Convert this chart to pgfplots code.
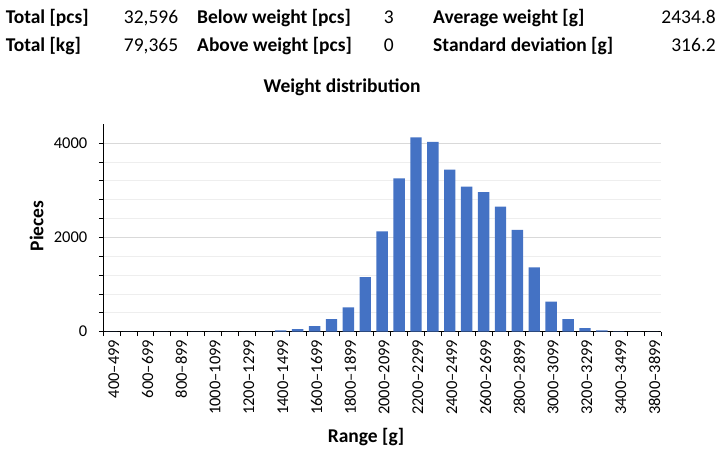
\documentclass[border=0pt]{standalone}
\usepackage{fontspec}
\setmainfont{Carlito}
\usepackage{pgfplots}
\pgfplotsset{compat=1.18}
\definecolor{barblue}{HTML}{4472C4}
\definecolor{majgrid}{HTML}{D9D9D9}
\definecolor{mingrid}{HTML}{EEEEEE}
\pgfplotstableread{
idx pcs
0 0
1 0
2 0
3 0
4 0
5 0
6 0
7 0
8 0
9 0
10 30
11 55
12 120
13 265
14 515
15 1160
16 2130
17 3255
18 4125
19 4030
20 3440
21 3080
22 2965
23 2655
24 2160
25 1366
26 640
27 265
28 75
29 28
30 5
31 0
32 0
}\weightdata
\newcommand{\hd}{\fontsize{19.5}{23}\selectfont}
\newcommand{\tk}{\fontsize{16.5}{20}\selectfont}
\newcommand{\tkx}{\fontsize{16.5}{20}\selectfont}
\begin{document}
\begin{tikzpicture}[x=1pt,y=1pt]
\path[use as bounding box] (0,0) rectangle (723,457);
% header table
\node[anchor=base west,inner sep=0pt,font=\hd\bfseries] at (5.6,433.3) {Total [pcs]};
\node[anchor=base east,inner sep=0pt,font=\hd] at (178.4,433.3) {32,596};
\node[anchor=base west,inner sep=0pt,font=\hd\bfseries] at (197,433.3) {Below weight [pcs]};
\node[anchor=base east,inner sep=0pt,font=\hd] at (394,433.3) {3};
\node[anchor=base west,inner sep=0pt,font=\hd\bfseries] at (433,433.3) {Average weight [g]};
\node[anchor=base east,inner sep=0pt,font=\hd] at (716,433.3) {2434.8};
\node[anchor=base west,inner sep=0pt,font=\hd\bfseries] at (5.6,405.3) {Total [kg]};
\node[anchor=base east,inner sep=0pt,font=\hd] at (178.4,405.3) {79,365};
\node[anchor=base west,inner sep=0pt,font=\hd\bfseries] at (197,405.3) {Above weight [pcs]};
\node[anchor=base east,inner sep=0pt,font=\hd] at (394,405.3) {0};
\node[anchor=base west,inner sep=0pt,font=\hd\bfseries] at (433,405.3) {Standard deviation [g]};
\node[anchor=base east,inner sep=0pt,font=\hd] at (716,405.3) {316.2};
\node[anchor=base,inner sep=0pt,font=\hd\bfseries] at (342,364.5) {Weight distribution};
\begin{axis}[
  at={(103.3pt,125.3pt)}, anchor=south west,
  scale only axis, width=557.7pt, height=207.3pt,
  xmin=-0.5, xmax=32.5, ymin=0, ymax=4400,
  axis x line*=bottom, axis y line*=left,
  axis line style={black, line width=1.3pt, -},
  tick align=outside,
  major tick length=4.5pt, minor tick length=4.5pt,
  every tick/.style={black, line width=1pt},
  xtick={0,2,...,32},
  xticklabels={400–499,600–699,800–899,1000–1099,1200–1299,1400–1499,1600–1699,1800–1899,2000–2099,2200–2299,2400–2499,2600–2699,2800–2899,3000–3099,3200–3299,3400–3499,3800–3899},
  minor xtick={-0.5,0.5,...,32.5},
  major x tick style={draw=none},
  ytick={0,2000,4000}, minor y tick num=4,
  ymajorgrids, yminorgrids,
  major grid style={majgrid, line width=1pt},
  minor grid style={mingrid, line width=1pt},
  /pgf/number format/assume math mode=true,
  scaled y ticks=false,
  yticklabel style={font=\tk, xshift=-8pt, /pgf/number format/1000 sep={}},
  xticklabel style={font=\tkx, rotate=90, anchor=east, yshift=-2pt},
  xlabel={Range [g]},
  xlabel style={font=\hd\bfseries, at={(axis description cs:0.471,-0.535)}, anchor=base},
  ylabel={Pieces},
  ylabel style={font=\hd\bfseries, at={(axis description cs:-0.1076,0.51)}, anchor=base},
]
\addplot[ybar, bar width=11.4pt, fill=barblue, draw=none] table[x=idx, y=pcs] {\weightdata};
\end{axis}
\end{tikzpicture}
\end{document}
